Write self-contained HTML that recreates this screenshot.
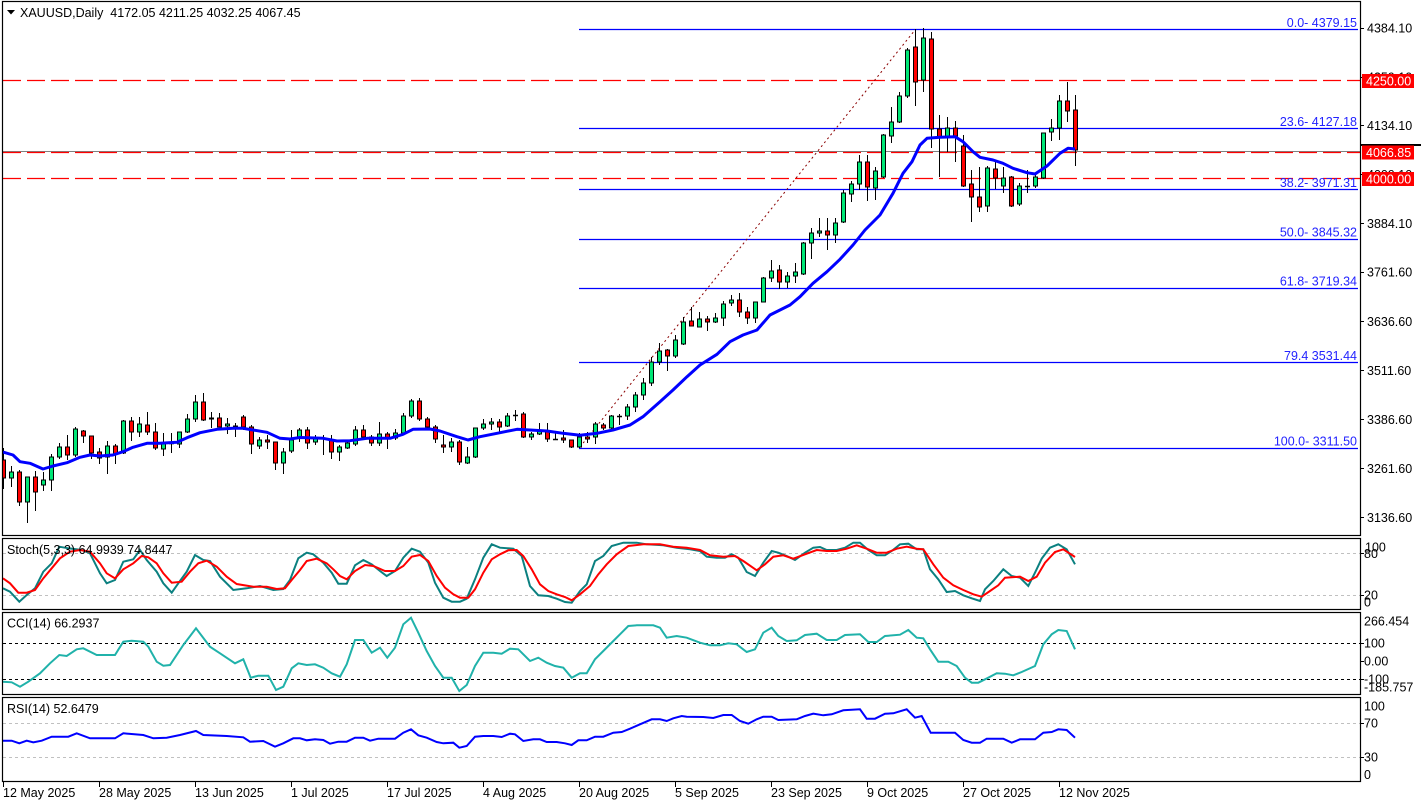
<!DOCTYPE html>
<html><head><meta charset="utf-8"><style>
html,body{margin:0;padding:0;background:#fff;}
svg{display:block;font-family:"Liberation Sans",Arial,sans-serif;font-size:12.5px;}
</style></head><body>
<svg width="1424" height="806" viewBox="0 0 1424 806" xmlns="http://www.w3.org/2000/svg">
<rect width="1424" height="806" fill="#fff"/>
<defs><clipPath id="mc"><rect x="3" y="2" width="1357" height="533"/></clipPath></defs>

<g clip-path="url(#mc)">
<line x1="3" y1="151.5" x2="1360" y2="151.5" stroke="#808080" stroke-width="1"/>
<g stroke="#ff0000" stroke-width="1.2" stroke-dasharray="18 6" fill="none">
<line x1="3" y1="80.5" x2="1360" y2="80.5"/>
<line x1="3" y1="152.5" x2="1360" y2="152.5"/>
<line x1="3" y1="178.5" x2="1360" y2="178.5"/>
</g>
<g stroke="#0000ff" stroke-width="1.2">
<line x1="579" y1="29.5" x2="1358" y2="29.5"/>
<line x1="579" y1="128.5" x2="1358" y2="128.5"/>
<line x1="579" y1="189.5" x2="1358" y2="189.5"/>
<line x1="579" y1="239.5" x2="1358" y2="239.5"/>
<line x1="579" y1="288.5" x2="1358" y2="288.5"/>
<line x1="579" y1="362.5" x2="1358" y2="362.5"/>
<line x1="579" y1="448.5" x2="1358" y2="448.5"/>
</g>
<line x1="580" y1="447" x2="915" y2="30" stroke="#8b0000" stroke-width="1" stroke-dasharray="2 3"/>

<path fill="none" stroke="#000" stroke-width="1" d="M3.5 448V489M11.5 466V487M19.5 470V506M27.5 477V523M35.5 471V511M43.5 472V491M51.5 454V491M59.5 443V459M67.5 435V460M75.5 427V457M83.5 430V443M91.5 436V459M99.5 448V464M107.5 441V474M115.5 444V464M123.5 420V454M131.5 417V441M139.5 417V437M147.5 412V435M155.5 423V450M163.5 433V456M171.5 433V453M179.5 432V448M187.5 414V433M195.5 395V422M203.5 393V421M211.5 412V428M219.5 413V427M227.5 418V434M235.5 423V437M243.5 415V430M251.5 425V454M259.5 437V449M267.5 435V449M275.5 442V470M283.5 448V474M291.5 430V453M299.5 428V442M307.5 427V449M315.5 435V445M323.5 435V455M331.5 435V459M339.5 445V461M347.5 440V449M355.5 426V446M363.5 425V440M371.5 435V446M379.5 422V446M387.5 432V449M395.5 429V440M403.5 413V435M411.5 399V418M419.5 398V421M427.5 417V428M435.5 425V443M443.5 435V453M451.5 438V452M459.5 440V465M467.5 447V464M475.5 428V458M483.5 419V430M491.5 418V430M499.5 419V432M507.5 413V427M515.5 410V421M523.5 412V438M531.5 432V440M539.5 423V435M547.5 423V442M555.5 432V440M563.5 430V443M571.5 440V448M579.5 433V448M587.5 432V443M595.5 422V444M603.5 423V430M611.5 415V430M619.5 414V425M627.5 404V420M635.5 392V412M643.5 378V400M651.5 357V386M659.5 343V365M667.5 349V371M675.5 335V358M683.5 317V345M691.5 307V326M699.5 312V327M707.5 316V331M715.5 313V323M723.5 301V326M731.5 295V306M739.5 293V317M747.5 307V324M755.5 302V323M763.5 277V302M771.5 260V282M779.5 265V289M787.5 272V288M795.5 263V283M803.5 242V275M811.5 228V259M819.5 218V237M827.5 218V250M835.5 218V243M843.5 190V223M851.5 181V202M859.5 155V190M867.5 155V201M875.5 167V200M883.5 134V178M891.5 107V143M899.5 92V123M907.5 48V98M915.5 29V106M923.5 28V92M931.5 32V148M939.5 115V177M947.5 117V152M955.5 121V162M963.5 135V187M971.5 170V222M979.5 167V212M987.5 166V212M995.5 161V189M1003.5 167V193M1011.5 176V207M1019.5 183V206M1027.5 170V193M1035.5 173V188M1043.5 133V179M1051.5 119V141M1059.5 95V140M1067.5 82V122M1075.5 95V166"/>
<path fill="none" stroke="#000" stroke-width="1.4" d="M169 443.5H174M321 438.5H326M513 415.5H518M553 439.5H558M617 416.5H622M1025 186.5H1030"/>

<g fill="#00e676" stroke="#000" stroke-width="1">
<rect x="9.5" y="472" width="4" height="6"/><rect x="25.5" y="477" width="4" height="25"/><rect x="41.5" y="480" width="4" height="5"/><rect x="49.5" y="457" width="4" height="23"/><rect x="57.5" y="447" width="4" height="10"/><rect x="73.5" y="429" width="4" height="26"/><rect x="105.5" y="446" width="4" height="11"/><rect x="121.5" y="421" width="4" height="32"/><rect x="137.5" y="424" width="4" height="8"/><rect x="161.5" y="443" width="4" height="6"/><rect x="177.5" y="432" width="4" height="12"/><rect x="185.5" y="419" width="4" height="13"/><rect x="193.5" y="402" width="4" height="17"/><rect x="225.5" y="424" width="4" height="2"/><rect x="257.5" y="440" width="4" height="6"/><rect x="281.5" y="452" width="4" height="11"/><rect x="289.5" y="440" width="4" height="11"/><rect x="297.5" y="430" width="4" height="7"/><rect x="313.5" y="439" width="4" height="3"/><rect x="337.5" y="447" width="4" height="5"/><rect x="345.5" y="443" width="4" height="5"/><rect x="353.5" y="430" width="4" height="14"/><rect x="377.5" y="434" width="4" height="9"/><rect x="393.5" y="433" width="4" height="5"/><rect x="401.5" y="416" width="4" height="17"/><rect x="409.5" y="401" width="4" height="15"/><rect x="449.5" y="442" width="4" height="5"/><rect x="465.5" y="457" width="4" height="6"/><rect x="473.5" y="428" width="4" height="29"/><rect x="481.5" y="424" width="4" height="4"/><rect x="489.5" y="422" width="4" height="2"/><rect x="505.5" y="416" width="4" height="10"/><rect x="529.5" y="434" width="4" height="3"/><rect x="537.5" y="431" width="4" height="3"/><rect x="577.5" y="437" width="4" height="10"/><rect x="593.5" y="424" width="4" height="13"/><rect x="609.5" y="416" width="4" height="12"/><rect x="625.5" y="407" width="4" height="9"/><rect x="633.5" y="395" width="4" height="12"/><rect x="641.5" y="383" width="4" height="12"/><rect x="649.5" y="362" width="4" height="21"/><rect x="657.5" y="351" width="4" height="11"/><rect x="673.5" y="340" width="4" height="16"/><rect x="681.5" y="322" width="4" height="22"/><rect x="697.5" y="319" width="4" height="8"/><rect x="713.5" y="318" width="4" height="4"/><rect x="721.5" y="304" width="4" height="14"/><rect x="729.5" y="300" width="4" height="3"/><rect x="753.5" y="302" width="4" height="16"/><rect x="761.5" y="278" width="4" height="24"/><rect x="769.5" y="271" width="4" height="7"/><rect x="785.5" y="276" width="4" height="6"/><rect x="793.5" y="272" width="4" height="4"/><rect x="801.5" y="243" width="4" height="31"/><rect x="809.5" y="233" width="4" height="10"/><rect x="817.5" y="231" width="4" height="2"/><rect x="833.5" y="223" width="4" height="12"/><rect x="841.5" y="193" width="4" height="29"/><rect x="849.5" y="184" width="4" height="10"/><rect x="857.5" y="162" width="4" height="22"/><rect x="873.5" y="171" width="4" height="17"/><rect x="881.5" y="135" width="4" height="42"/><rect x="889.5" y="122" width="4" height="14"/><rect x="897.5" y="96" width="4" height="26"/><rect x="905.5" y="50" width="4" height="46"/><rect x="921.5" y="38" width="4" height="42"/><rect x="945.5" y="128" width="4" height="9"/><rect x="985.5" y="168" width="4" height="38"/><rect x="1001.5" y="178" width="4" height="8"/><rect x="1017.5" y="186" width="4" height="18"/><rect x="1033.5" y="177" width="4" height="9"/><rect x="1041.5" y="133" width="4" height="45"/><rect x="1049.5" y="128" width="4" height="4"/><rect x="1057.5" y="101" width="4" height="27"/>
</g>
<g fill="#ff0000" stroke="#000" stroke-width="1">
<rect x="1.5" y="460" width="4" height="18"/><rect x="17.5" y="472" width="4" height="30"/><rect x="33.5" y="477" width="4" height="15"/><rect x="65.5" y="447" width="4" height="8"/><rect x="81.5" y="431" width="4" height="5"/><rect x="89.5" y="436" width="4" height="17"/><rect x="97.5" y="452" width="4" height="6"/><rect x="113.5" y="446" width="4" height="8"/><rect x="129.5" y="421" width="4" height="11"/><rect x="145.5" y="425" width="4" height="7"/><rect x="153.5" y="432" width="4" height="16"/><rect x="201.5" y="402" width="4" height="18"/><rect x="209.5" y="418" width="4" height="1"/><rect x="217.5" y="418" width="4" height="9"/><rect x="233.5" y="426" width="4" height="1"/><rect x="241.5" y="417" width="4" height="10"/><rect x="249.5" y="427" width="4" height="17"/><rect x="265.5" y="440" width="4" height="2"/><rect x="273.5" y="442" width="4" height="21"/><rect x="305.5" y="430" width="4" height="13"/><rect x="329.5" y="440" width="4" height="12"/><rect x="361.5" y="430" width="4" height="7"/><rect x="369.5" y="437" width="4" height="6"/><rect x="385.5" y="434" width="4" height="4"/><rect x="417.5" y="401" width="4" height="18"/><rect x="425.5" y="419" width="4" height="8"/><rect x="433.5" y="427" width="4" height="12"/><rect x="441.5" y="445" width="4" height="2"/><rect x="457.5" y="442" width="4" height="20"/><rect x="497.5" y="422" width="4" height="5"/><rect x="521.5" y="414" width="4" height="23"/><rect x="545.5" y="432" width="4" height="7"/><rect x="561.5" y="438" width="4" height="2"/><rect x="569.5" y="440" width="4" height="7"/><rect x="585.5" y="437" width="4" height="2"/><rect x="601.5" y="425" width="4" height="3"/><rect x="665.5" y="350" width="4" height="6"/><rect x="689.5" y="321" width="4" height="5"/><rect x="705.5" y="319" width="4" height="3"/><rect x="737.5" y="300" width="4" height="12"/><rect x="745.5" y="312" width="4" height="6"/><rect x="777.5" y="270" width="4" height="12"/><rect x="825.5" y="231" width="4" height="4"/><rect x="865.5" y="162" width="4" height="25"/><rect x="913.5" y="47" width="4" height="35"/><rect x="929.5" y="39" width="4" height="90"/><rect x="937.5" y="129" width="4" height="8"/><rect x="953.5" y="128" width="4" height="8"/><rect x="961.5" y="146" width="4" height="40"/><rect x="969.5" y="184" width="4" height="13"/><rect x="977.5" y="197" width="4" height="10"/><rect x="993.5" y="169" width="4" height="9"/><rect x="1009.5" y="177" width="4" height="29"/><rect x="1065.5" y="101" width="4" height="10"/><rect x="1073.5" y="110" width="4" height="40"/>
</g>

<polyline fill="none" stroke="#0000ff" stroke-width="3" stroke-linejoin="round" points="3,452 13,455 20,461.7 30,463.3 43,469 53,466 67,462.7 80,457.3 90,455 100,456 113,455 123,451.7 133,447.3 147,443.3 160,443.3 177,442.3 187,437.7 200,432.7 217,429.3 233,428.3 243,428.3 253,430 267,432.3 280,438.3 290,439 300,437.5 323,438.3 337,441 350,440.7 367,438.3 390,438.3 403,434.3 413,429.3 430,429 440,431 457,436.7 468,440 480,436.7 497,433.3 517,429.3 530,430 547,431 563,433.3 580,435.3 597,433.3 613,430 630,425 643,416.7 660,401.7 673,390 687,376.7 700,365 717,354.3 730,341.7 743,335 757,330 770,315 790,305 800,296.7 813,283.3 827,271.7 840,259.3 853,245 865,230 880,215 893,193.3 903,173.3 912,161.7 920,145 927,138.3 940,137.3 955,136.7 963,141.7 973,151.7 980,157.3 993,160 1003,163.3 1013,168.3 1027,172.7 1035,174 1047,166 1060,153.3 1068,148.3 1075,149"/>
</g>

<g fill="#2323ff" text-anchor="end">
<text x="1357" y="27">0.0- 4379.15</text>
<text x="1357" y="126">23.6- 4127.18</text>
<text x="1357" y="187">38.2- 3971.31</text>
<text x="1357" y="236.5">50.0- 3845.32</text>
<text x="1357" y="285.5">61.8- 3719.34</text>
<text x="1357" y="360">79.4 3531.44</text>
<text x="1357" y="445.5">100.0- 3311.50</text>
</g>

<polygon points="7,10 15,10 11,14.5" fill="#000"/>
<text x="20" y="17" fill="#000" style="white-space:pre" xml:space="preserve">XAUUSD,Daily  4172.05 4211.25 4032.25 4067.45</text>

<g stroke="#c0c0c0" stroke-width="1" stroke-dasharray="3 3">
<line x1="3" y1="553.5" x2="1360" y2="553.5"/>
<line x1="3" y1="595.5" x2="1360" y2="595.5"/>
<line x1="3" y1="723.5" x2="1360" y2="723.5"/>
<line x1="3" y1="757.5" x2="1360" y2="757.5"/>
</g>
<g stroke="#000" stroke-width="1" stroke-dasharray="3 3">
<line x1="3" y1="643.5" x2="1360" y2="643.5"/>
<line x1="3" y1="679.5" x2="1360" y2="679.5"/>
</g>

<polyline fill="none" stroke="#0b8080" stroke-width="2" points="3,588.3 10,591.7 19.3,601.7 26.7,595 35,588.3 43.3,571.7 51.7,563.3 59.3,546.7 68.3,548.3 81.7,550 90,553.3 100,573.3 106.7,583.3 115,580 123.3,561.7 133.3,559.3 140,550 146.7,560 156.7,571.7 163.3,583.3 171.7,592.7 178.3,583.3 186.7,571.7 195,555 203.3,560 210,561 220,576.7 233.3,590 246.7,588.3 260,586 273.3,590 283.3,589 290,580 298.3,558.3 306.7,552.7 313.3,554.3 323.3,562.7 331.7,572.7 338.3,583.7 346.7,583.7 355,565.3 363.3,560 371.7,564.3 380,571 386.7,576 395,571 403.3,557.7 411.7,548.7 420,551.7 428.3,562.7 435,582.7 443.3,597.7 451.7,601.7 460,601.7 466.7,598.7 475,579.3 483.3,557.7 491.7,544.3 500,547.7 513.3,548.7 521.7,556 530,586 538.3,595.3 548.3,596 556.7,598.7 565,602 571.7,602.7 580,591 586.7,584.3 595,561 603.3,556 611.7,546 623.3,542.7 636.7,542.7 646.7,544.3 663.3,545.3 676.7,547.7 690,549.3 700,551 706.7,556.7 716.7,557.7 725,557.7 731.7,554.3 738.3,557.7 746.7,572 755,576 763.3,562.7 771.7,551 778.3,552.7 786.7,556 795,560 805,552.7 813.3,547.7 820,547 826.7,550 836.7,550 845,547.7 853.3,542.7 860,542.7 868.3,550 876.7,555.3 885,555.3 891.7,551 900,544.3 908.3,543.7 916.7,549.3 923.3,549.3 930,569.3 938.3,579.3 946.7,592 955,591 963.3,595.3 971.7,598.3 980,601 985,589.3 993.3,581 1003.3,569.3 1011.7,576 1020,577.7 1028.3,586 1035,572.7 1041.7,558.7 1050,547.7 1058.3,544.3 1066.7,549.3 1075,564.3"/>
<polyline fill="none" stroke="#ff0000" stroke-width="2" points="3,578.3 10,583.3 18.3,592.7 26.7,592.7 35,590 43.3,578.3 51.7,568.3 60,558.3 70,551.7 80,550 90,551.7 100,563.3 106.7,573.3 115,578.3 123.3,569.3 133.3,563.3 141.7,556 148.3,557.3 156.7,563.3 163.3,573.3 171.7,582.7 181.7,581.7 190,571.7 198.3,563.3 206.7,560.7 216.7,566.7 226.7,576.7 236.7,584 253.3,586.7 266.7,586.7 276.7,589 285,588.3 291.7,580 300,570 306.7,561 316.7,558.7 326.7,563.3 333.3,569.3 340,576 346.7,579.3 355,571 365,565 373.3,566 385,571 395,571 403.3,566 411.7,556.7 420,555 428.3,561 436.7,576 445,587.7 453.3,594.3 460,597.7 468.3,597.7 475,589.3 483.3,572.7 491.7,559.3 500,554.3 508.3,550.3 516.7,550 523.3,556 531.7,569.3 540,584.3 548.3,591 556.7,594.3 565,597 571.7,600.3 580,594.3 590,586 598.3,574.3 606.7,564.3 616.7,554.3 628.3,546 643.3,544.3 660,544.3 673.3,546.7 686.7,547.7 700,550 710,555.3 723.3,556.7 735,556 743.3,561 756.7,570.3 765,564.3 773.3,556.7 783.3,555.3 793.3,558.7 805,554.3 816.7,550 826.7,551 836.7,551 846.7,548.7 856.7,545.3 866.7,548.7 876.7,552.7 886.7,552.7 896.7,548.7 906.7,546.7 916.7,548.7 923.3,549.3 933.3,564.3 943.3,577.7 953.3,585.3 963.3,590 973.3,594.3 981.7,596.7 990,591 998.3,585.3 1005,577.7 1020,576.7 1028.3,581 1036.7,576.7 1045,562.7 1055,552 1063.3,549.3 1075,557"/>

<polyline fill="none" stroke="#20b2aa" stroke-width="2" points="3,681.7 11.7,682.3 20,686.7 28.3,681.7 40,673.3 50,663.3 59.3,655 66.7,656 76.7,649.3 83.3,648.3 96.7,655 115,655 123.3,641.7 131.7,640.7 143.3,641.7 148.3,646.7 156.7,661.7 163.3,665.7 170,665 183.3,645 196,628.3 210,646.7 220,653.3 235,663.3 243.3,659.3 250.7,677.7 258.3,675.7 268.3,675.7 276,690 283.3,686.7 291.7,668.3 298.3,663.3 306.7,665 315,664.3 323.3,667.7 331.7,673.3 340,676.7 346.7,664.3 355,640 363.3,640 371.7,652.7 380,647.7 387.3,657.7 395,647.7 403.3,624.3 411,617.7 418.3,632.7 426.7,651 435,666 443.3,677.7 451.7,677.7 459.3,691 466.7,685 475,666 483.3,652.7 493.3,652.7 501.7,653.7 510,648.7 518.3,649.3 530,661 538.3,657.7 546.7,662.7 555,666 563.3,667.7 571.7,677.7 580,673.3 586.7,673.3 595,659.3 603.3,651 613.3,641 620,634.3 628.3,626 636.7,625.3 653.3,625.3 660,627.7 666.7,637.7 676.7,636 686.7,637.7 700,642.7 710,645.3 720,645.3 728.3,643.3 736.7,644.3 746.7,652 755,649.3 763.3,632.7 771.7,627.7 778.3,636 786.7,641 796.7,640.3 805,635 816.7,633.7 826.7,640 836.7,640 845,635 860,634.3 868.3,642 876.7,642 885,636 900,634.7 908.3,630 916.7,637.7 923.3,638.3 930,649.3 938.3,661.7 948.3,661.7 956.7,666 965,677.7 971.7,682.7 978.3,682.7 988.3,677.7 996.7,673.3 1005,673.7 1013.3,675.3 1021.7,672 1035,666 1043.3,644.3 1051.7,634.3 1058.3,630 1066.7,631 1075,649.3"/>

<polyline fill="none" stroke="#0000ff" stroke-width="2" points="3,740.7 11.7,740.7 19.3,743.3 26.7,740.7 33.3,742.3 41.7,740.7 51.7,736.7 68.3,736.7 76.7,733.3 90,738.3 115,738.3 123.3,733.3 143.3,735 153.3,738.3 166.7,737.7 180,735 196,731 203.3,735 226.7,736 243.3,737.3 250,741.7 263.3,741 275,746.7 283.3,743.3 293.3,738.3 300,738.3 306.7,740.3 315,739.3 323.3,740 330,743.7 338.3,741.7 346.7,741.7 355,737.7 363.3,737.7 370,740.7 378.3,738.7 395,738.7 403.3,732.7 411,729.3 418.3,735.3 426.7,737.7 436.7,742 443.3,743.3 453.3,742.7 459.3,747.7 466.7,746 475,736.7 483.3,736 493.3,736 501.7,737 510,733.7 515,734.3 523.3,741 533.3,739.3 540,739.3 546.7,742 556.7,742 565,743.3 571.7,745 578.3,740.3 586.7,740.3 595,736.7 603.3,736.7 613.3,732.7 621.7,732 630,728.7 640,724.3 651.7,719.3 660,719.3 666.7,721 673.3,718.3 681.7,716 686.7,716.7 703.3,717 713.3,718 723.3,715 731.7,715 740,721 748.3,723.7 756.7,719.3 763.3,716.7 771.7,716.7 778.3,720 796.7,719.3 805,716 813.3,713.7 823.3,715.3 831.7,714.3 843.3,710.3 860,709.3 866.7,718.7 875,718.7 885,713.7 893.3,713.3 906.7,709.3 915,717.7 921.7,716 930.7,732.7 955,732.7 963.3,740 971.7,742.7 980,742.7 986.7,738.7 1003.3,738.7 1011.7,742.7 1020,739.3 1035,739.3 1043.3,732.7 1051.7,732 1058.3,729.3 1066.7,730 1075,737.7"/>

<g fill="#000">
<text x="7" y="554">Stoch(5,3,3) 64.9939 74.8447</text>
<text x="7" y="627.5">CCI(14) 66.2937</text>
<text x="7" y="713">RSI(14) 52.6479</text>
</g>

<g fill="none" stroke="#000" stroke-width="1.2">
<rect x="2.5" y="1.5" width="1358" height="534"/>
<rect x="2.5" y="538.5" width="1358" height="71"/>
<rect x="2.5" y="612.5" width="1358" height="82"/>
<rect x="2.5" y="697.5" width="1358" height="84"/>
</g>

<path stroke="#000" stroke-width="1" d="M1360 28.5H1364M1360 77.5H1364M1360 125.5H1364M1360 174.5H1364M1360 223.5H1364M1360 272.5H1364M1360 321.5H1364M1360 370.5H1364M1360 419.5H1364M1360 468.5H1364M1360 517.5H1364M1360 553.5H1364M1360 595.5H1364M1360 643.5H1364M1360 661.5H1364M1360 679.5H1364M1360 723.5H1364M1360 757.5H1364"/>

<g fill="#000">
<text x="1367" y="32.5">4384.10</text>
<text x="1367" y="81.6">4259.10</text>
<text x="1367" y="130.2">4134.10</text>
<text x="1367" y="179.2">4009.10</text>
<text x="1367" y="227.8">3884.10</text>
<text x="1367" y="276.6">3761.60</text>
<text x="1367" y="325.8">3636.60</text>
<text x="1367" y="374.8">3511.60</text>
<text x="1367" y="423.8">3386.60</text>
<text x="1367" y="472.8">3261.60</text>
<text x="1367" y="521.8">3136.60</text>
</g>
<rect x="1361" y="144" width="60" height="2" fill="#000"/>
<rect x="1362" y="74" width="52" height="14" fill="#ff0000"/>
<rect x="1362" y="145.5" width="52" height="14" fill="#ff0000"/>
<rect x="1362" y="172" width="52" height="14" fill="#ff0000"/>
<g fill="#fff">
<text x="1366" y="85.5">4250.00</text>
<text x="1366" y="157">4066.85</text>
<text x="1366" y="183.5">4000.00</text>
</g>

<g fill="#000">
<text x="1365" y="551.5">100</text>
<text x="1364" y="558">80</text>
<text x="1364" y="599.5">20</text>
<text x="1364" y="606.5">0</text>
<text x="1364" y="625.5">266.454</text>
<text x="1364" y="647.6">100</text>
<text x="1364" y="665.6">0.00</text>
<text x="1364" y="683.6">-100</text>
<text x="1364" y="691.6">-185.757</text>
<text x="1364" y="710.3">100</text>
<text x="1364" y="727.6">70</text>
<text x="1364" y="761.6">30</text>
<text x="1364" y="779">0</text>
</g>

<path stroke="#000" stroke-width="1" d="M3.5 782V787M99.5 782V787M195.5 782V787M291.5 782V787M387.5 782V787M483.5 782V787M579.5 782V787M675.5 782V787M771.5 782V787M867.5 782V787M963.5 782V787M1059.5 782V787"/>
<g fill="#000">
<text x="3" y="797">12 May 2025</text>
<text x="99" y="797">28 May 2025</text>
<text x="195" y="797">13 Jun 2025</text>
<text x="291" y="797">1 Jul 2025</text>
<text x="387" y="797">17 Jul 2025</text>
<text x="483" y="797">4 Aug 2025</text>
<text x="579" y="797">20 Aug 2025</text>
<text x="675" y="797">5 Sep 2025</text>
<text x="771" y="797">23 Sep 2025</text>
<text x="867" y="797">9 Oct 2025</text>
<text x="963" y="797">27 Oct 2025</text>
<text x="1059" y="797">12 Nov 2025</text>
</g>
</svg>
</body></html>
